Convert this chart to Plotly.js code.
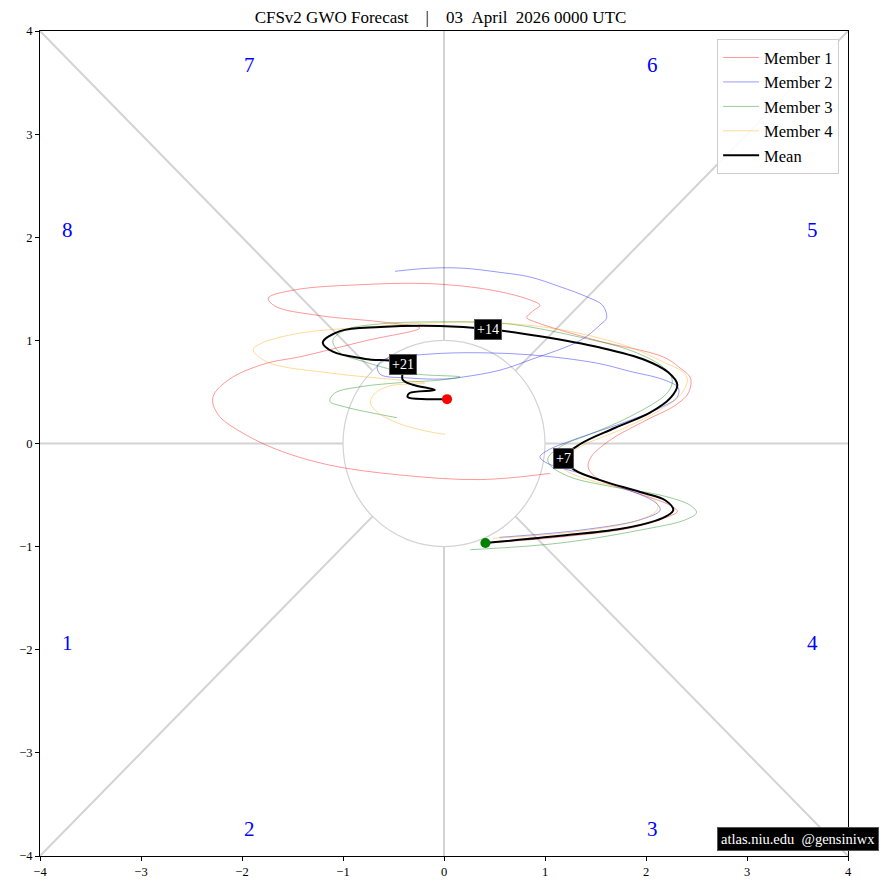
<!DOCTYPE html>
<html>
<head>
<meta charset="utf-8">
<script src="https://cdn.plot.ly/plotly-3.0.1.min.js"></script>
<style>html,body{margin:0;padding:0;background:#fff;}#chart{width:881px;height:890px;}</style>
</head>
<body>
<div id="chart"></div>
<script>
// ---- Data ----
const m1x = [0.41,1.15,1.84,2.19,2.31,2.24,1.94,1.545,1.43,1.45,1.64,2.01,2.29,2.42,2.44,2.34,2.17,1.51,0.90,0.82,0.88,0.95,0.83,0.455,-0.14,-0.83,-1.475,-1.74,-1.67,-1.23,-0.63,-0.24,-0.76,-1.43,-1.75,-2.09,-2.27,-2.29,-2.22,-1.99,-1.65,-1.13,-0.44,0.36,1.05];
const m1y = [-0.965,-0.907,-0.82,-0.72,-0.66,-0.60,-0.49,-0.355,-0.24,-0.14,0.03,0.23,0.37,0.49,0.635,0.73,0.84,1.00,1.18,1.22,1.285,1.34,1.40,1.49,1.55,1.54,1.49,1.41,1.33,1.24,1.18,1.12,1.00,0.84,0.78,0.645,0.49,0.40,0.26,0.10,-0.06,-0.21,-0.305,-0.35,-0.29];

const m2x = [0.55,1.35,1.94,2.14,2.09,1.74,1.35,1.02,0.95,1.02,1.28,1.77,2.14,2.31,2.32,2.17,1.84,1.51,0.85,0.19,-0.24,-0.58,-0.66,-0.63,-0.34,-0.01,0.19,0.55,0.85,1.35,1.545,1.61,1.57,1.42,1.15,0.85,0.55,0.19,-0.14,-0.485];
const m2y = [-0.91,-0.84,-0.74,-0.645,-0.57,-0.42,-0.29,-0.19,-0.13,-0.07,0.035,0.20,0.345,0.45,0.54,0.62,0.70,0.78,0.86,0.88,0.86,0.82,0.75,0.67,0.635,0.625,0.645,0.71,0.81,1.00,1.15,1.22,1.34,1.42,1.52,1.615,1.66,1.70,1.70,1.67];

const m3x = [0.26,1.15,1.94,2.39,2.50,2.44,2.14,1.67,1.25,1.05,1.03,1.18,1.42,1.84,2.21,2.26,2.17,1.84,1.35,0.85,0.525,-0.04,-0.63,-0.98,-1.10,-1.03,-0.78,-0.485,-0.24,0.16,-0.04,-0.435,-0.83,-1.08,-1.13,-0.98,-0.73,-0.465];
const m3y = [-1.03,-0.965,-0.84,-0.74,-0.67,-0.60,-0.50,-0.42,-0.325,-0.21,-0.14,-0.015,0.08,0.26,0.49,0.615,0.74,0.905,1.03,1.13,1.17,1.18,1.16,1.10,1.00,0.88,0.79,0.71,0.67,0.645,0.615,0.59,0.55,0.49,0.41,0.355,0.30,0.25];

const m4x = [0.485,1.35,1.94,2.11,2.11,1.94,1.445,1.18,1.17,1.35,1.74,2.14,2.34,2.41,2.37,2.17,1.84,1.18,0.525,-0.14,-0.76,-1.43,-1.80,-1.89,-1.75,-1.10,-0.435,-0.19,-0.53,-0.68,-0.73,-0.66,-0.435,-0.07,0.01];
const m4y = [-0.92,-0.85,-0.74,-0.645,-0.58,-0.47,-0.355,-0.24,-0.16,-0.03,0.13,0.325,0.47,0.615,0.69,0.79,0.935,1.10,1.17,1.17,1.13,1.07,0.975,0.91,0.79,0.68,0.615,0.585,0.56,0.49,0.40,0.305,0.19,0.10,0.09];

const meanX = [0.41,1.15,1.74,2.09,2.21,2.27,2.19,1.94,1.545,1.30,1.18,1.35,1.69,2.04,2.24,2.31,2.22,1.99,1.545,0.95,0.435,-0.04,-0.63,-1.03,-1.20,-1.10,-0.78,-0.41,-0.41,-0.31,-0.09,-0.34,-0.36,-0.17,0.03];
const meanY = [-0.965,-0.895,-0.83,-0.75,-0.70,-0.645,-0.55,-0.47,-0.355,-0.26,-0.15,-0.005,0.15,0.30,0.44,0.57,0.69,0.81,0.93,1.04,1.11,1.14,1.13,1.09,0.98,0.89,0.82,0.77,0.62,0.57,0.52,0.49,0.45,0.43,0.43];

const leadLabels = ['+7','+14','+21'];
const leadIndex = [10,20,27];

const phaseLabels = ['1','2','3','4','5','6','7','8'];
const phaseX = [-3.73,-1.93,2.06,3.65,3.65,2.06,-1.93,-3.73];
const phaseY = [-1.935,-3.74,-3.74,-1.935,2.07,3.67,3.67,2.07];

const tickVals = [-4,-3,-2,-1,0,1,2,3,4];

const NB = '\u00a0';
const titleText = 'CFSv2 GWO Forecast' + NB+NB+NB+NB + '|' + NB+NB+NB+NB + '03' + NB+NB + 'April' + NB+NB + '2026 0000 UTC';
const creditText = 'atlas.niu.edu' + NB+NB + '@gensiniwx';

const FONT = 'Liberation Serif, DejaVu Serif, serif';

// ---- Traces ----
const memberStyle = [
  {name:'Member 1', x:m1x, y:m1y, color:'rgba(255,0,0,0.45)'},
  {name:'Member 2', x:m2x, y:m2y, color:'rgba(0,0,255,0.45)'},
  {name:'Member 3', x:m3x, y:m3y, color:'rgba(0,128,0,0.45)'},
  {name:'Member 4', x:m4x, y:m4y, color:'rgba(255,165,0,0.45)'}
];
const traces = memberStyle.map(m => ({
  type:'scatter', mode:'lines', name:m.name, x:m.x, y:m.y,
  line:{color:m.color, width:0.9, shape:'spline', smoothing:1.0},
  hoverinfo:'skip'
}));
traces.push({
  type:'scatter', mode:'lines', name:'Mean', x:meanX, y:meanY,
  line:{color:'black', width:2, shape:'spline', smoothing:1.0}
});
traces.push({
  type:'scatter', mode:'markers', showlegend:false,
  x:[meanX[0]], y:[meanY[0]], marker:{color:'green', size:10}
});
traces.push({
  type:'scatter', mode:'markers', showlegend:false,
  x:[meanX[meanX.length-1]], y:[meanY[meanY.length-1]], marker:{color:'red', size:10}
});

// ---- Reference shapes ----
const grey = '#d3d3d3';
const s = Math.SQRT1_2;
const shapes = [
  {type:'circle', xref:'x', yref:'y', x0:-1, y0:-1, x1:1, y1:1, line:{color:grey, width:1.2}, layer:'below'},
  {type:'line', x0:0, y0:1, x1:0, y1:4, line:{color:grey, width:2}, layer:'below'},
  {type:'line', x0:0, y0:-1, x1:0, y1:-4, line:{color:grey, width:2}, layer:'below'},
  {type:'line', x0:1, y0:0, x1:4, y1:0, line:{color:grey, width:2}, layer:'below'},
  {type:'line', x0:-1, y0:0, x1:-4, y1:0, line:{color:grey, width:2}, layer:'below'},
  {type:'line', x0:s, y0:s, x1:4, y1:4, line:{color:grey, width:2}, layer:'below'},
  {type:'line', x0:-s, y0:-s, x1:-4, y1:-4, line:{color:grey, width:2}, layer:'below'},
  {type:'line', x0:-s, y0:s, x1:-4, y1:4, line:{color:grey, width:2}, layer:'below'},
  {type:'line', x0:s, y0:-s, x1:4, y1:-4, line:{color:grey, width:2}, layer:'below'}
];

const annotations = [];
phaseLabels.forEach((t,i) => annotations.push({
  x:phaseX[i], y:phaseY[i], text:t, showarrow:false,
  font:{family:FONT, size:21, color:'blue'}
}));
leadLabels.forEach((t,i) => annotations.push({
  x:meanX[leadIndex[i]], y:meanY[leadIndex[i]], text:t, showarrow:false,
  font:{family:FONT, size:14, color:'white'},
  bgcolor:'black', bordercolor:'#555', borderwidth:1, borderpad:2
}));
annotations.push({
  xref:'paper', yref:'paper', x:1, y:0, xanchor:'right', yanchor:'bottom',
  xshift:31, yshift:5, text:creditText, showarrow:false,
  font:{family:FONT, size:14.5, color:'white'},
  bgcolor:'black', bordercolor:'#555', borderwidth:1, borderpad:3
});

const axisCommon = {
  range:[-4,4], tickvals:tickVals, showgrid:false, zeroline:false,
  showline:true, mirror:true, linecolor:'black', linewidth:1,
  ticks:'outside', ticklen:4, tickcolor:'black',
  tickfont:{family:FONT, size:12.5, color:'black'}, fixedrange:true
};

const layout = {
  width:881, height:890,
  margin:{l:40, r:33, t:31, b:34},
  paper_bgcolor:'white', plot_bgcolor:'white',
  title:{text:titleText, x:0.5, xanchor:'center', y:0.981, yanchor:'middle',
         font:{family:FONT, size:17, color:'black'}},
  xaxis:Object.assign({}, axisCommon),
  yaxis:Object.assign({}, axisCommon),
  showlegend:true,
  legend:{x:0.989, y:0.99, xanchor:'right', yanchor:'top', bgcolor:'rgba(255,255,255,0.9)',
          bordercolor:'#cccccc', borderwidth:1, font:{family:FONT, size:16.5, color:'black'},
          tracegroupgap:0, itemwidth:36},
  shapes:shapes,
  annotations:annotations
};

Plotly.newPlot('chart', traces, layout, {displayModeBar:false, staticPlot:true});
</script>
</body>
</html>
